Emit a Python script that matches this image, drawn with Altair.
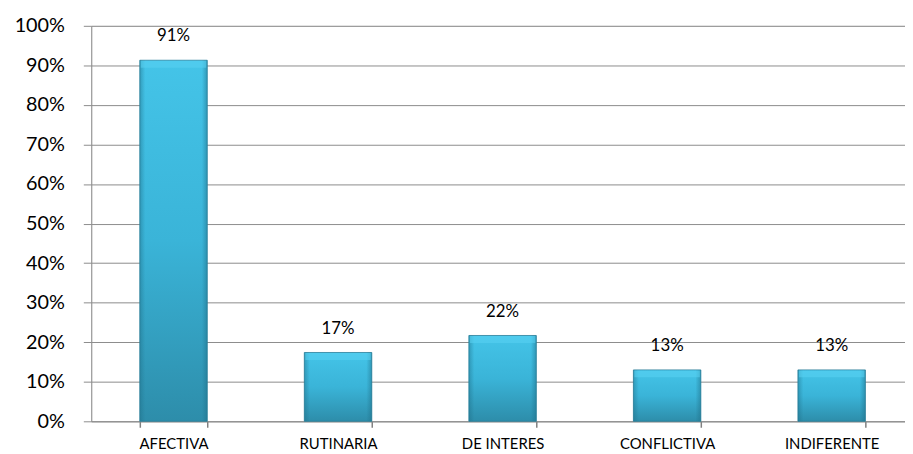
import altair as alt
import pandas as pd

categories = ["AFECTIVA", "RUTINARIA", "DE INTERES", "CONFLICTIVA", "INDIFERENTE"]
values = [0.913, 0.174, 0.217, 0.130, 0.130]
y_ticks = [0.0, 0.1, 0.2, 0.3, 0.4, 0.5, 0.6, 0.7, 0.8, 0.9, 1.0]

df = pd.DataFrame({"cat": categories, "val": values})

FONT = "Lato"
GRID = "#8C8C8C"

xscale = alt.Scale(domain=categories, range=[0, 830], paddingInner=0.59, paddingOuter=0.295)
yscale = alt.Scale(domain=[0, 1])

xaxis = alt.Axis(title=None, labelFontSize=15, labelFont=FONT, labelColor="#000000",
                 labelAngle=0, ticks=True, tickBand="extent", tickSize=6, tickColor="#808080",
                 tickWidth=1.5, labelPadding=9, domainColor=GRID, domainWidth=1)
yaxis = alt.Axis(title=None, values=y_ticks, format=".0%", labelOverlap=False,
                 labelFontSize=20, labelFont=FONT, labelColor="#000000",
                 labelPadding=19, tickSize=8, tickColor=GRID,
                 domainColor=GRID, gridColor=GRID, gridWidth=1)

xenc = alt.X("cat:N", scale=xscale, sort=categories, axis=xaxis)
yenc = alt.Y("val:Q", scale=yscale, axis=yaxis)

grad = alt.Gradient(
    gradient="linear", x1=0, y1=0, x2=0, y2=1,
    stops=[
        alt.GradientStop(offset=0, color="#44C4E8"),
        alt.GradientStop(offset=0.5, color="#3AB4D8"),
        alt.GradientStop(offset=1, color="#2D8DAA"),
    ],
)

edge = alt.Gradient(
    gradient="linear", x1=0, y1=0, x2=1, y2=0,
    stops=[
        alt.GradientStop(offset=0, color="rgba(30,110,135,0.45)"),
        alt.GradientStop(offset=0.08, color="rgba(30,110,135,0.0)"),
        alt.GradientStop(offset=0.92, color="rgba(30,110,135,0.0)"),
        alt.GradientStop(offset=1, color="rgba(30,110,135,0.5)"),
    ],
)

base = alt.Chart(df)

bars = base.mark_bar(color=grad, stroke="#2A7F99", strokeWidth=0.8).encode(x=xenc, y=yenc)
shade = base.mark_bar(color=edge).encode(x=xenc, y=yenc)

bevel = base.mark_tick(color="#5AD2F2", thickness=7, size=66, yOffset=4, opacity=0.55).encode(
    x=xenc, y=yenc,
)

labels = base.mark_text(baseline="bottom", dy=-15, fontSize=17, font=FONT, color="#000000").encode(
    x=xenc, y=yenc, text=alt.Text("val:Q", format=".0%"),
)

chart = (bars + shade + bevel + labels).properties(
    width=821, height=399,
    autosize=alt.AutoSizeParams(type="none"),
    padding={"left": 84, "top": 16, "right": 0, "bottom": 31},
).configure_view(stroke=None).configure(background="#FFFFFF")

chart.save("out.html", embed_options={"renderer": "svg", "actions": False})
